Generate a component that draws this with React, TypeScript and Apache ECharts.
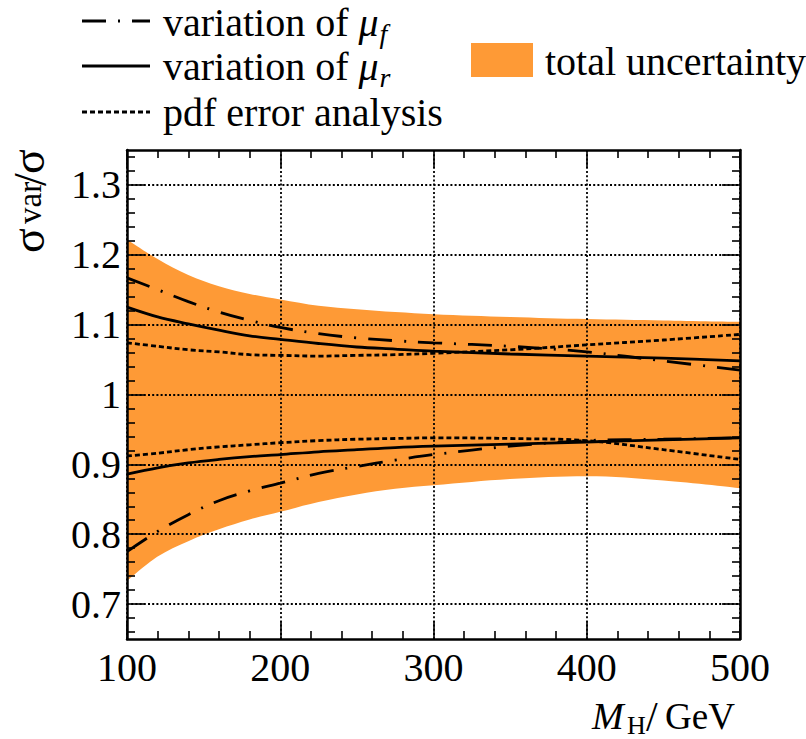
import React, { useEffect, useRef } from "react";
import * as echarts from "echarts";

// ---- data ----
const massGeV = [100, 120, 140, 160, 180, 200, 225, 250, 275, 300, 350, 400, 450, 500];
const bandUpper = [1.222, 1.194, 1.171, 1.155, 1.144, 1.136, 1.127, 1.122, 1.118, 1.115, 1.111, 1.108, 1.106, 1.104];
const bandLower = [0.733, 0.768, 0.790, 0.807, 0.821, 0.832, 0.846, 0.857, 0.865, 0.870, 0.879, 0.883, 0.877, 0.866];
const muFUpper = [1.167, 1.150, 1.133, 1.118, 1.106, 1.096, 1.087, 1.081, 1.077, 1.074, 1.069, 1.061, 1.048, 1.035];
const muFLower = [0.775, 0.804, 0.828, 0.848, 0.862, 0.873, 0.887, 0.897, 0.906, 0.914, 0.926, 0.934, 0.936, 0.938];
const muRUpper = [1.125, 1.111, 1.101, 1.092, 1.084, 1.079, 1.073, 1.068, 1.065, 1.062, 1.058, 1.055, 1.052, 1.048];
const muRLower = [0.886, 0.895, 0.902, 0.907, 0.911, 0.914, 0.918, 0.921, 0.924, 0.926, 0.929, 0.932, 0.935, 0.938];
const pdfUpper = [1.074, 1.069, 1.064, 1.061, 1.057, 1.056, 1.055, 1.056, 1.057, 1.059, 1.064, 1.071, 1.078, 1.086];
const pdfLower = [0.912, 0.916, 0.921, 0.925, 0.928, 0.931, 0.934, 0.936, 0.937, 0.938, 0.937, 0.934, 0.921, 0.907];

const yMajorTicks = [0.7, 0.8, 0.9, 1.0, 1.1, 1.2, 1.3];
const yMinorTicks = [
  0.66, 0.68, 0.72, 0.74, 0.76, 0.78, 0.82, 0.84, 0.86, 0.88, 0.92, 0.94, 0.96, 0.98,
  1.02, 1.04, 1.06, 1.08, 1.12, 1.14, 1.16, 1.18, 1.22, 1.24, 1.26, 1.28, 1.32, 1.34,
];

const legendLabels = ["variation of ", "variation of ", "pdf error analysis"];
const legendSubs = ["f", "r"];
const bandLabel = "total uncertainty";

const SERIF = '"Liberation Serif", "Times New Roman", serif';
const ORANGE = "#fe9a36";
const DASHDOT = [24, 12, 2, 12];
const DOTTED = [5, 3];

let mctx: CanvasRenderingContext2D | null = null;
function measure(text: string, size: number, italic = false): number {
  if (!mctx) mctx = document.createElement("canvas").getContext("2d");
  if (!mctx) return text.length * size * 0.45;
  mctx.font = `${italic ? "italic " : ""}${size}px ${SERIF}`;
  return mctx.measureText(text).width;
}

function txt(text: string, x: number, baseline: number, size: number, italic = false): any {
  return {
    type: "text",
    x,
    y: baseline - 0.3375 * size,
    silent: true,
    style: {
      text,
      fontSize: size,
      fontFamily: SERIF,
      fontStyle: italic ? "italic" : "normal",
      fill: "#000",
      align: "left",
      verticalAlign: "middle",
      textAlign: "left",
      textVerticalAlign: "middle",
    },
  };
}

// rotated text (reads bottom to top); baseline at screen x = bx, starts at screen y = sy
function vtxt(text: string, bx: number, sy: number, size: number): any {
  return {
    type: "text",
    x: bx - 0.3375 * size,
    y: sy,
    rotation: Math.PI / 2,
    silent: true,
    style: {
      text,
      fontSize: size,
      fontFamily: SERIF,
      fill: "#000",
      align: "left",
      verticalAlign: "middle",
      textAlign: "left",
      textVerticalAlign: "middle",
    },
  };
}

function buildGraphics(): any[] {
  const g: any[] = [];
  const rowLine = [21, 66, 112];
  const rowBase = [36, 80, 126];
  const styles = [DASHDOT, null, DOTTED];
  for (let i = 0; i < 3; i++) {
    g.push({
      type: "line",
      silent: true,
      shape: { x1: 82, y1: rowLine[i], x2: 150, y2: rowLine[i] },
      style: { stroke: "#000", lineWidth: 2.8, lineDash: styles[i] || undefined },
    });
    g.push(txt(legendLabels[i], 163, rowBase[i], 40));
    if (i < 2) {
      const w = measure(legendLabels[i], 40);
      const muX = 163 + w;
      g.push(txt("μ", muX, rowBase[i], 40, true));
      const wm = measure("μ", 40, true);
      g.push(txt(legendSubs[i], muX + wm + 1, rowBase[i] + 7, 28, true));
    }
  }
  g.push({
    type: "rect",
    silent: true,
    shape: { x: 471, y: 43, width: 62, height: 34 },
    style: { fill: ORANGE },
  });
  g.push(txt(bandLabel, 545, 75, 40));

  // x-axis title  M_H / GeV
  g.push(txt("M", 592, 729, 38, true));
  g.push(txt("H", 627, 734, 26));
  g.push(txt("/", 646, 731, 42));
  g.push(txt("GeV", 665, 729, 37));

  // y-axis title  σ_var / σ (rotated, reads bottom to top)
  g.push(vtxt("σ", 44, 253, 46));
  g.push(vtxt("var", 41, 224, 33));
  g.push(vtxt("/", 46, 186, 46));
  g.push(vtxt("σ", 44, 174, 46));
  return g;
}

const pts = (ys: number[]) => massGeV.map((x, i) => [x, ys[i]]);

function buildOption(): any {
  const black = "#000";
  const frameLine = { show: true, onZero: false, lineStyle: { color: black, width: 2.5 } };
  const tickStyle = { color: black, width: 1.6 };
  const gridLine = { show: true, lineStyle: { color: black, width: 1.8, type: [2, 2.2] } };
  const labelFont = { fontFamily: SERIF, fontSize: 40, color: black };

  const xCommon = {
    type: "value",
    min: 100,
    max: 500,
    interval: 100,
    z: 3,
    axisLine: frameLine,
    axisTick: { show: true, inside: true, length: 18, lineStyle: tickStyle },
    minorTick: { show: true, splitNumber: 5, length: 8, lineStyle: tickStyle },
  };
  const yCommon = { type: "value", min: 0.65, max: 1.35, splitNumber: 7, z: 3 };

  const lineSeries = (ys: number[], type: any) => ({
    type: "line",
    data: pts(ys),
    smooth: 0.35,
    symbol: "none",
    silent: true,
    z: 5,
    lineStyle: { color: black, width: 2.8, type },
  });

  return {
    animation: false,
    backgroundColor: "#fff",
    grid: { left: 127, right: 66, top: 150, bottom: 100, containLabel: false },
    xAxis: [
      {
        ...xCommon,
        position: "bottom",
        axisLabel: { ...labelFont, margin: 8 },
        splitLine: gridLine,
      },
      {
        ...xCommon,
        position: "top",
        axisLabel: { show: false },
        splitLine: { show: false },
      },
    ],
    yAxis: [
      {
        ...yCommon,
        position: "left",
        axisLine: frameLine,
        axisTick: { show: true, inside: true, length: 18, lineStyle: tickStyle, customValues: yMajorTicks },
        axisLabel: { ...labelFont, margin: 6, customValues: yMajorTicks },
        splitLine: gridLine,
      },
      {
        ...yCommon,
        position: "left",
        axisLine: { show: false },
        axisTick: { show: true, inside: true, length: 8, lineStyle: tickStyle, customValues: yMinorTicks },
        axisLabel: { show: false },
        splitLine: { show: false },
      },
      {
        ...yCommon,
        position: "right",
        axisLine: frameLine,
        axisTick: { show: true, inside: true, length: 18, lineStyle: tickStyle, customValues: yMajorTicks },
        axisLabel: { show: false },
        splitLine: { show: false },
      },
      {
        ...yCommon,
        position: "right",
        axisLine: { show: false },
        axisTick: { show: true, inside: true, length: 8, lineStyle: tickStyle, customValues: yMinorTicks },
        axisLabel: { show: false },
        splitLine: { show: false },
      },
    ],
    series: [
      {
        type: "line",
        name: "total uncertainty",
        data: pts(bandUpper),
        smooth: 0.35,
        symbol: "none",
        silent: true,
        z: 1,
        lineStyle: { opacity: 0, width: 0 },
        areaStyle: { color: ORANGE, opacity: 1, origin: "start" },
      },
      {
        type: "line",
        name: "band lower edge",
        data: pts(bandLower),
        smooth: 0.35,
        symbol: "none",
        silent: true,
        z: 1.5,
        lineStyle: { opacity: 0, width: 0 },
        areaStyle: { color: "#ffffff", opacity: 1, origin: "start" },
      },
      lineSeries(muFUpper, DASHDOT),
      lineSeries(muFLower, DASHDOT),
      lineSeries(muRUpper, "solid"),
      lineSeries(muRLower, "solid"),
      lineSeries(pdfUpper, DOTTED),
      lineSeries(pdfLower, DOTTED),
    ],
    graphic: buildGraphics(),
  };
}

export default function App() {
  const ref = useRef<HTMLDivElement>(null);
  useEffect(() => {
    if (!ref.current) return;
    const chart = echarts.init(ref.current, undefined, { renderer: "svg" });
    chart.setOption(buildOption());
    return () => chart.dispose();
  }, []);
  return (
    <div
      ref={ref}
      style={{ position: "absolute", left: 0, top: 0, width: 806, height: 739, background: "#fff" }}
    />
  );
}
